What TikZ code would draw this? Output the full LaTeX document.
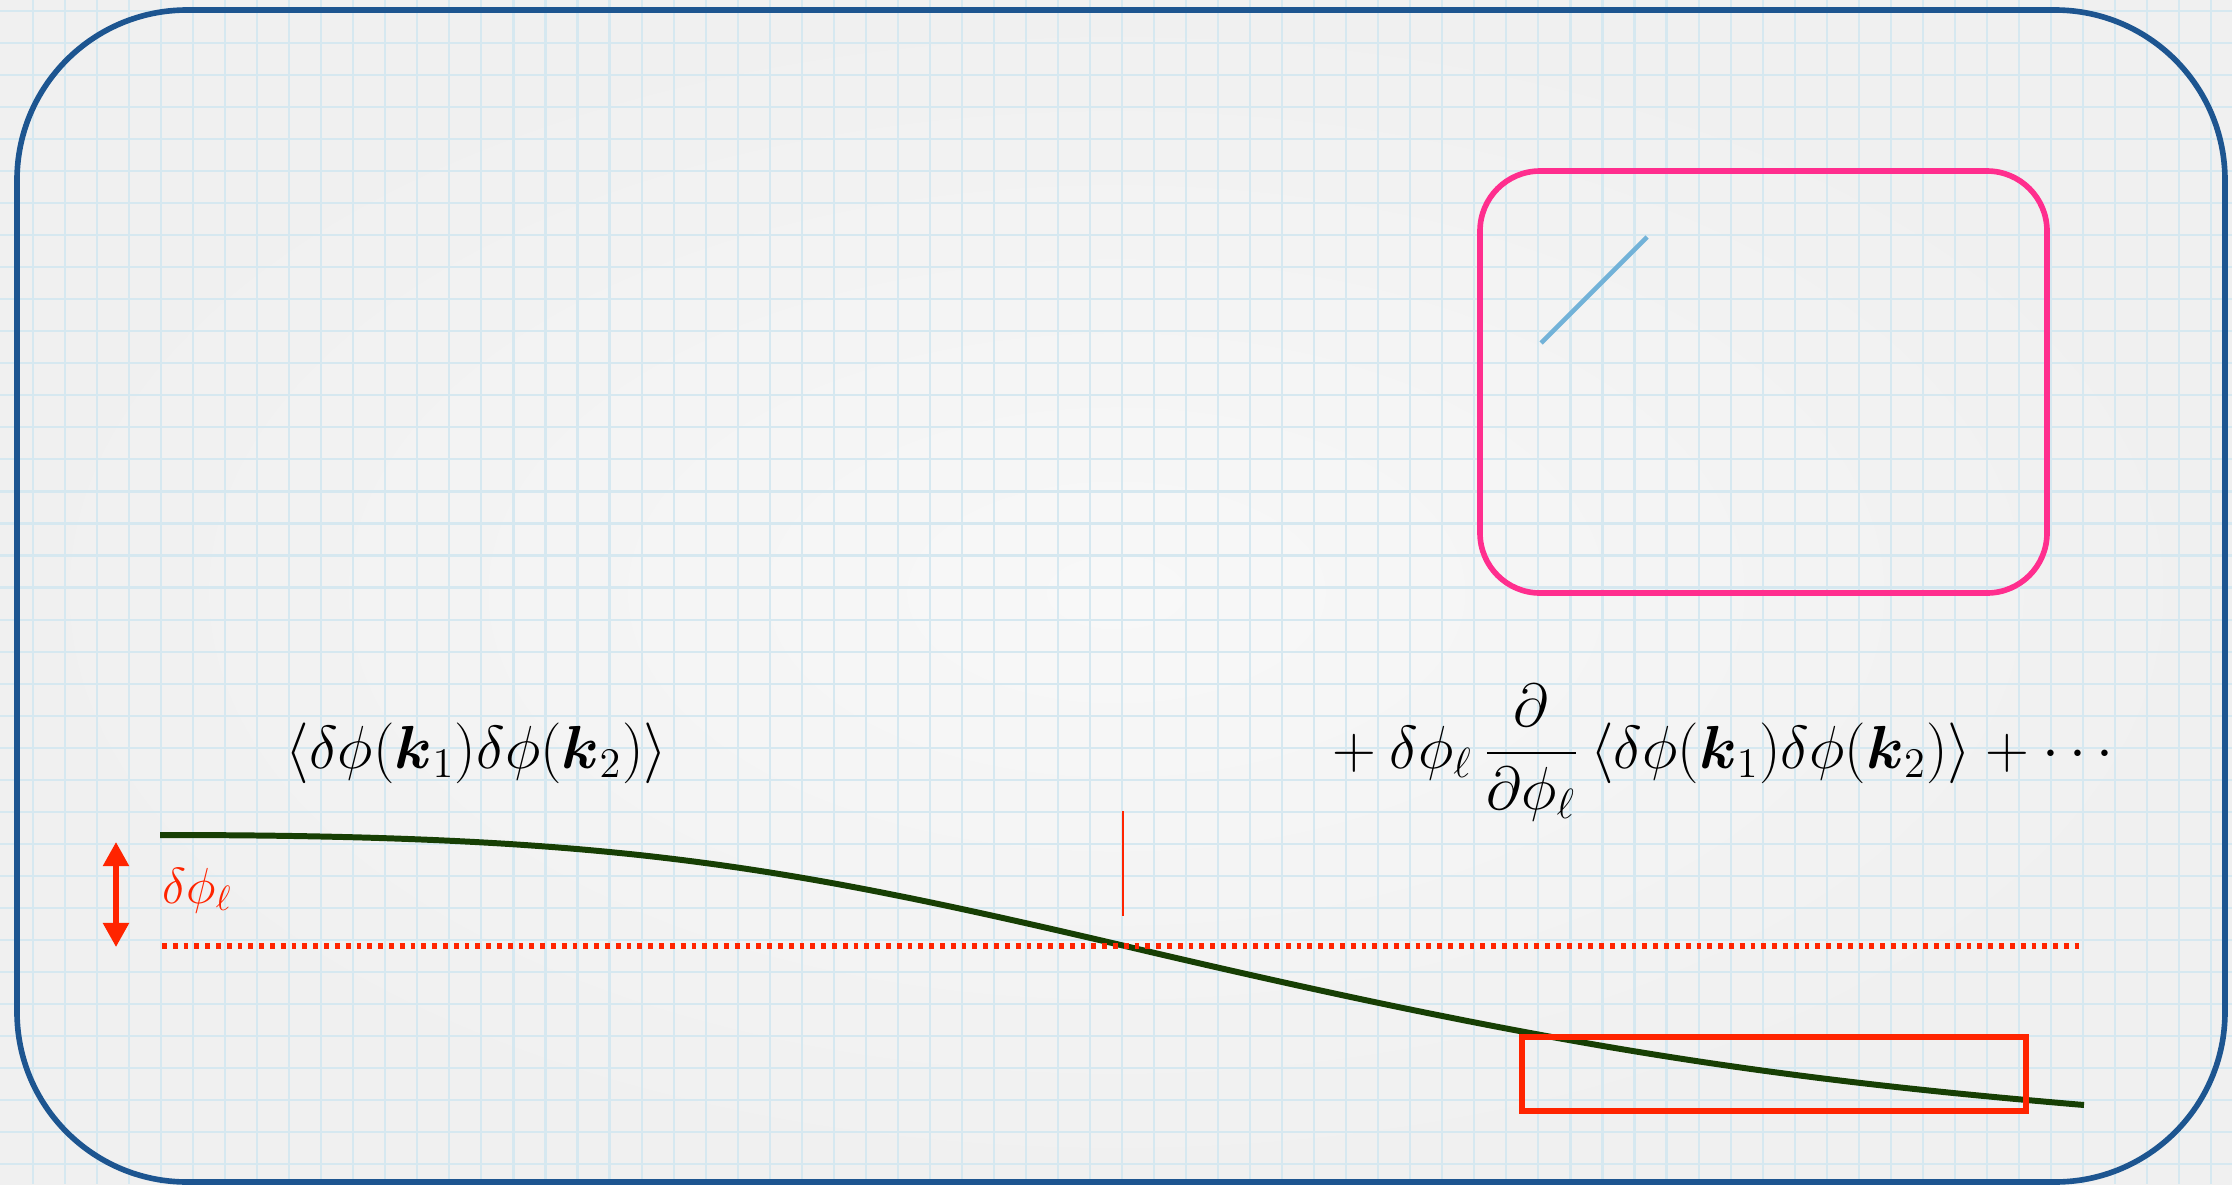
\documentclass[tikz,border=0pt]{standalone}
\usepackage{amsmath}
\usepackage{xcolor}
\usepackage{tikz}
\usetikzlibrary{arrows.meta,positioning}
\definecolor{paperLight}{HTML}{F8F8F8}
\definecolor{paperDark}{HTML}{F0F0F0}
\definecolor{paperGrid}{HTML}{D6E8F0}
\definecolor{frameBlue}{HTML}{1D5590}
\definecolor{insetPink}{HTML}{FF2E8E}
\definecolor{slopeBlue}{HTML}{72B2D8}
\definecolor{fieldGreen}{HTML}{173F04}
\definecolor{shiftRed}{HTML}{FF2400}

\begin{document}
\begin{tikzpicture}[x=0.01cm, y=-0.01cm,
    gridline/.style={paperGrid, line width=0.6pt},
    mathlabel/.style={anchor=base west, inner sep=0pt, font=\fontsize{16.5}{20}\selectfont}]
                \useasboundingbox (0,0) rectangle (2232,1184);
                % graph paper
                \shade[inner color=paperLight, outer color=paperDark] (0,0) rectangle (2232,1184);
                \foreach \i in {0,...,68}
                    \draw[gridline] (33+32.03*\i,0) -- (33+32.03*\i,1184);
                \foreach \j in {0,...,36}
                    \draw[gridline] (0,11+32.03*\j) -- (2232,11+32.03*\j);
                \draw[frameBlue, line width=1.6pt, rounded corners=1.7cm] (17,10) rectangle (2225,1182);

                % inset with the slope
                \draw[insetPink, line width=1.6pt, rounded corners=0.6cm] (1480,171) rectangle (2047,593);
                \coordinate (slopelow) at (1541,343);
                \coordinate (slopehigh) at (1647,237);
                \draw[slopeBlue, line width=1.3pt] (slopelow) -- (slopehigh);

                % formulas
                \node[mathlabel] (corr) at (285,768) {$\langle\delta\phi(\boldsymbol{k}_1)\delta\phi(\boldsymbol{k}_2)\rangle$};
                \node[mathlabel] (expansion) at (1318,768) {$\displaystyle {}+\delta\phi_\ell\,\frac{\partial}{\partial\phi_\ell}\,\langle\delta\phi(\boldsymbol{k}_1)\delta\phi(\boldsymbol{k}_2)\rangle+\cdots$};

                % long mode
                \coordinate (fieldstart) at (160,835);
                \coordinate (fieldmid) at (1125,946);
                \coordinate (fieldend) at (2084,1105);
                \draw[fieldGreen, line width=1.7pt] (fieldstart) .. controls (610,835) and (775,864) .. (fieldmid)
                    .. controls (1545,1045) and (1764,1078) .. (fieldend);

                % background level and shift
                \coordinate (levelleft) at (162,946);
                \coordinate (levelright) at (2079,946);
                \draw[shiftRed, line width=1.5pt, dash pattern=on 0.048cm off 0.06cm] (levelleft) -- (levelright);
                \coordinate (ticktop) at (1123,811);
                \coordinate (tickbottom) at (1123,916);
                \draw[shiftRed, line width=0.7pt] (ticktop) -- (tickbottom);
                \coordinate (shifttop) at (116,842);
                \coordinate (shiftbottom) at (116,947);
                \draw[shiftRed, line width=1.5pt, {Triangle[length=0.24cm, width=0.25cm]}-{Triangle[length=0.24cm, width=0.25cm]}] (shifttop) -- (shiftbottom);
                \node[anchor=base west, inner sep=0pt, text=shiftRed, font=\fontsize{14.5}{17}\selectfont] (shiftlabel) at (162,903) {$\delta\phi_\ell$};

                % zoomed region
                \draw[shiftRed, line width=1.5pt] (1522,1037) rectangle (2026,1111);
            \end{tikzpicture}
\end{document}
